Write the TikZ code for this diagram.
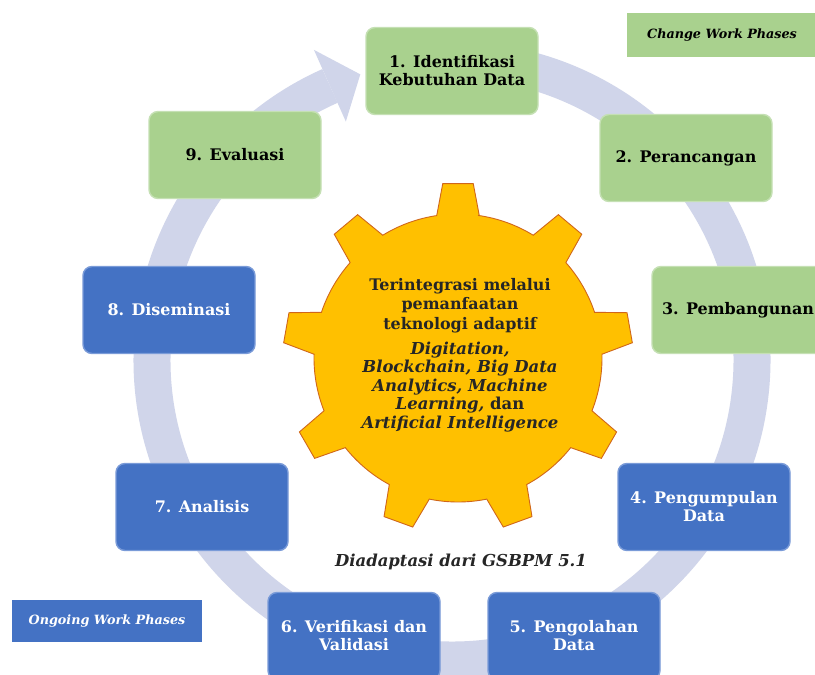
\documentclass[tikz,border=0pt]{standalone}
\usepackage{fontspec}
\setmainfont{DejaVu Serif}
\definecolor{gfill}{HTML}{A9D18E}
\definecolor{gline}{HTML}{C5E0B4}
\definecolor{bfill}{HTML}{4472C4}
\definecolor{bline}{HTML}{7A9BD8}
\definecolor{ringcol}{HTML}{D0D5EA}
\definecolor{gearfill}{HTML}{FFC000}
\definecolor{gearline}{HTML}{D0661A}
\definecolor{geartxt}{HTML}{262626}
\tikzset{
  phase/.style={rounded corners=9bp, minimum width=172bp, minimum height=87bp,
    align=center, line width=1.4bp, inner sep=2bp,
    font=\bfseries\fontsize{16}{18}\selectfont},
  gbox/.style={phase, fill=gfill, draw=gline, text=black},
  bbox/.style={phase, fill=bfill, draw=bline, text=white},
  ringline/.style={draw=ringcol, line width=37bp},
  gearst/.style={fill=gearfill, draw=gearline, line width=0.9bp},
  geartext/.style={align=center, text=geartxt, font=\bfseries\fontsize{16}{19.5}\selectfont},
  legend/.style={rectangle, inner sep=0pt, font=\bfseries\itshape\fontsize{12.8}{14}\selectfont}
}
\begin{document}
\begin{tikzpicture}[x=1bp,y=-1bp]
\useasboundingbox (0,0) rectangle (815,675);
\clip (0,0) rectangle (815,675);
\fill[white] (0,0) rectangle (815,675);
% cycle ring with arrow head
\begin{scope}[shift={(452,360)}, y=1bp]
  \draw[ringline] (85:300) arc[start angle=85, end angle=-246, radius=300];
  \fill[ringcol] (114:339.5) -- (107.8:300) -- (114:261) -- cycle;
\end{scope}
% gear
\begin{scope}[shift={(458,358)}, y=1bp]
  \draw[gearst] (82:144)
    \foreach \a in {90,130,...,410} {
      -- ({\a-8.5}:144) -- ({\a-5}:175) -- ({\a+5}:175) -- ({\a+8.5}:144)
      arc[start angle=\a+8.5, end angle=\a+31.5, radius=144]
    } -- cycle;
\end{scope}
\node[geartext] (gt) at (460,355) {Terintegrasi melalui\\pemanfaatan\\teknologi adaptif\\[6bp]
  {\fontsize{16.5}{19.5}\selectfont\textit{Digitation,}}\\[-1bp]{\fontsize{16.5}{19.5}\selectfont\textit{Blockchain, Big Data}}\\[-1bp]{\fontsize{16.5}{19.5}\selectfont\textit{Analytics, Machine}}\\[-1bp]
  {\fontsize{16.5}{19.5}\selectfont\textit{Learning,} dan}\\[-1bp]{\fontsize{16.5}{19.5}\selectfont\textit{Artificial Intelligence}}};
% phases
\node[gbox] (b1) at (452,71) {1. Identifikasi\\Kebutuhan Data};
\node[gbox] (b2) at (686,158) {2. Perancangan};
\node[gbox] (b3) at (738,310) {3. Pembangunan};
\node[bbox] (b4) at (704,507) {4. Pengumpulan\\Data};
\node[bbox] (b5) at (574,636) {5. Pengolahan\\Data};
\node[bbox] (b6) at (354,636) {6. Verifikasi dan\\Validasi};
\node[bbox] (b7) at (202,507) {7. Analisis};
\node[bbox] (b8) at (169,310) {8. Diseminasi};
\node[gbox] (b9) at (235,155) {9. Evaluasi};
% captions and legends
\node[font=\bfseries\itshape\fontsize{16.5}{18}\selectfont, text=geartxt] (src) at (461,562) {Diadaptasi dari GSBPM 5.1};
\node[legend, fill=gfill, text=black, minimum width=190bp, minimum height=44bp] (lc) at (722,35) {Change Work Phases};
\node[legend, fill=bfill, text=white, minimum width=190bp, minimum height=42bp] (lo) at (107,621) {Ongoing Work Phases};
\end{tikzpicture}
\end{document}
